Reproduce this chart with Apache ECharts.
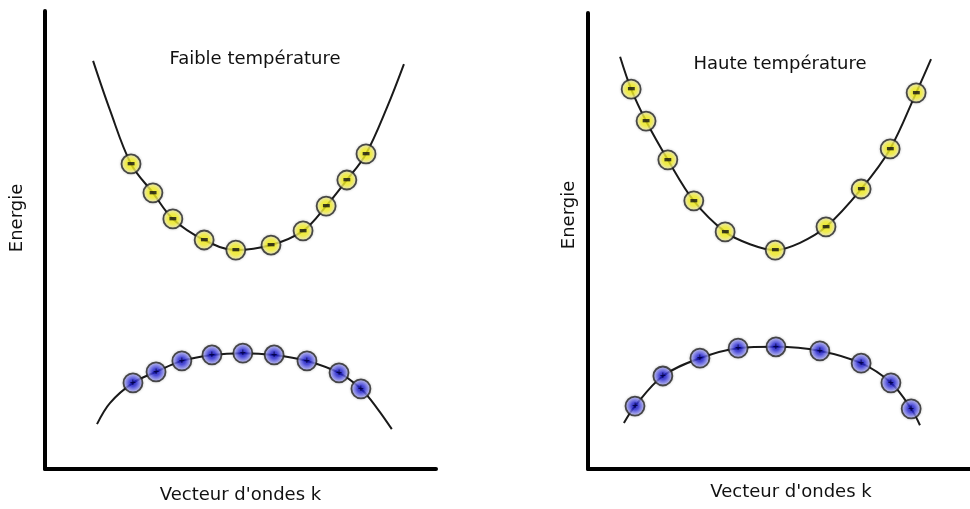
<!DOCTYPE html>
<html>
<head>
<meta charset="utf-8">
<script src="https://cdn.jsdelivr.net/npm/echarts@6/dist/echarts.min.js"></script>
<style>
  html, body { margin: 0; padding: 0; background: #fff; }
  #main { width: 970px; height: 509px; }
</style>
</head>
<body>
<div id="main"></div>
<script>
// panel titles and axis names
var panelTitles = ['Faible température', 'Haute température'];
var axisNameX = "Vecteur d'ondes k";
var axisNameY = 'Energie';

// low temperature: conduction band (curve + electrons), valence band (curve + holes)
var lowCondBand = [[12.3, 89.1], [16.6, 78.4], [22.0, 66.6], [27.6, 60.3], [32.7, 54.6], [40.7, 50.0],
    [48.8, 47.8], [57.8, 48.9], [66.0, 52.0], [71.9, 57.4], [77.2, 63.1], [82.1, 68.8], [87.5, 79.0], [91.8, 88.4]];
var lowElectrons = [[22.0, 66.6], [27.6, 60.3], [32.7, 54.6], [40.7, 50.0], [48.8, 47.8],
    [57.8, 48.9], [66.0, 52.0], [71.9, 57.4], [77.2, 63.1], [82.1, 68.8]];
var lowValBand = [[13.3, 9.8], [16.6, 14.4], [22.5, 18.8], [28.4, 21.2], [35.0, 23.6], [42.7, 24.9],
    [50.6, 25.3], [58.6, 24.9], [67.0, 23.6], [75.2, 21.0], [80.8, 17.5], [84.9, 13.3], [88.7, 8.7]];
var lowHoles = [[22.5, 18.8], [28.4, 21.2], [35.0, 23.6], [42.7, 24.9], [50.6, 25.3],
    [58.6, 24.9], [67.0, 23.6], [75.2, 21.0], [80.8, 17.5]];

// high temperature
var highCondBand = [[8.4, 90.4], [11.3, 83.3], [15.2, 76.3], [20.9, 67.8], [27.7, 58.8], [35.9, 52.0],
    [42.4, 49.3], [49.0, 48.0], [55.5, 49.6], [62.3, 53.1], [71.5, 61.4], [79.1, 70.2], [85.9, 82.5], [89.8, 89.9]];
var highElectrons = [[11.3, 83.3], [15.2, 76.3], [20.9, 67.8], [27.7, 58.8], [35.9, 52.0],
    [49.0, 48.0], [62.3, 53.1], [71.5, 61.4], [79.1, 70.2], [85.9, 82.5]];
var highValBand = [[9.4, 10.1], [12.3, 13.8], [19.6, 20.4], [29.3, 24.3], [39.3, 26.5], [49.2, 26.8],
    [60.7, 25.9], [71.5, 23.2], [79.3, 18.9], [84.6, 13.2], [86.9, 9.6]];
var highHoles = [[12.3, 13.8], [19.6, 20.4], [29.3, 24.3], [39.3, 26.5], [49.2, 26.8],
    [60.7, 25.9], [71.5, 23.2], [79.3, 18.9], [84.6, 13.2]];

var font = 'DejaVu Sans';
var myChart = echarts.init(document.getElementById('main'));

var yellowFill = new echarts.graphic.RadialGradient(0.5, 0.5, 0.5, [
    {offset: 0, color: '#f2ee10'},
    {offset: 0.5, color: '#f5f028'},
    {offset: 0.8, color: '#faf7a0'},
    {offset: 1, color: '#ffffff'}
]);
var blueFill = new echarts.graphic.RadialGradient(0.5, 0.5, 0.5, [
    {offset: 0, color: '#00009a'},
    {offset: 0.35, color: '#2a2ad8'},
    {offset: 0.7, color: '#8a8af2'},
    {offset: 1, color: '#f0f0ff'}
]);

function xAxisOf(i, gap, shift) {
    return {
        gridIndex: i, type: 'value', min: 0, max: 100,
        name: axisNameX, nameLocation: 'middle', nameGap: gap,
        nameTextStyle: {fontFamily: font, fontSize: 18, color: '#111', padding: [0, 0, 0, shift]},
        axisLine: {show: true, lineStyle: {color: '#000', width: 4}},
        axisTick: {show: false}, axisLabel: {show: false}, splitLine: {show: false}
    };
}
function yAxisOf(i, gap, shift) {
    return {
        gridIndex: i, type: 'value', min: 0, max: 100,
        name: axisNameY, nameLocation: 'middle', nameGap: gap,
        nameTextStyle: {fontFamily: font, fontSize: 18, color: '#111', padding: [0, 0, 0, shift]},
        axisLine: {show: true, lineStyle: {color: '#000', width: 4}},
        axisTick: {show: false}, axisLabel: {show: false}, splitLine: {show: false}
    };
}
function band(i, data) {
    return {
        type: 'line', xAxisIndex: i, yAxisIndex: i, data: data,
        smooth: 0.35, showSymbol: false, silent: true,
        lineStyle: {color: '#1a1a1a', width: 2}
    };
}
function carriers(i, data, fill, sign, signSize, signColor) {
    return {
        type: 'scatter', xAxisIndex: i, yAxisIndex: i, data: data,
        symbol: 'circle', symbolSize: 19, z: 5,
        itemStyle: {color: fill, borderColor: '#222', borderWidth: 1.8,
            shadowBlur: 3, shadowColor: 'rgba(0,0,0,0.2)'},
        label: {show: true, position: 'inside', formatter: sign,
            fontFamily: font, fontWeight: 'bold', fontSize: signSize, color: signColor}
    };
}

option = {
    backgroundColor: '#fff',
    animation: false,
    title: [
        {text: panelTitles[0], left: 250, top: 45, textAlign: 'center',
            textStyle: {fontFamily: font, fontSize: 18, fontWeight: 'normal', color: '#111'}},
        {text: panelTitles[1], left: 775, top: 50, textAlign: 'center',
            textStyle: {fontFamily: font, fontSize: 18, fontWeight: 'normal', color: '#111'}}
    ],
    grid: [
        {left: 45, top: 11, width: 391, height: 458},
        {left: 588, top: 13, right: 0, height: 456}
    ],
    xAxis: [xAxisOf(0, 17, 0), xAxisOf(1, 14, 24)],
    yAxis: [yAxisOf(0, 19, 44), yAxisOf(1, 10, 52)],
    series: [
        band(0, lowCondBand),
        band(0, lowValBand),
        carriers(0, lowElectrons, yellowFill, '▬', 9, '#111'),
        carriers(0, lowHoles, blueFill, '+', 8, '#000040'),
        band(1, highCondBand),
        band(1, highValBand),
        carriers(1, highElectrons, yellowFill, '▬', 9, '#111'),
        carriers(1, highHoles, blueFill, '+', 8, '#000040')
    ]
};
myChart.setOption(option);
</script>
</body>
</html>
